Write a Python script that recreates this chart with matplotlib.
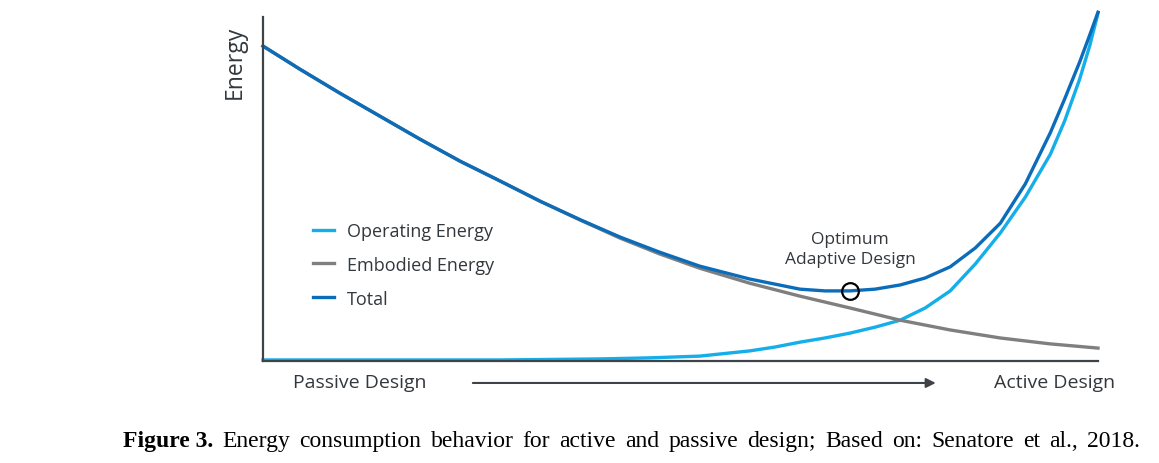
import matplotlib
matplotlib.use('Agg')
import matplotlib.pyplot as plt

# values (x: passive -> active, 0..100; y: energy, 0..100)
x_emb = [0, 4.4, 9.2, 14.0, 18.8, 23.6, 28.4, 33.2, 38.0, 42.8, 47.5, 52.3,
         58.3, 64.3, 70.3, 76.3, 82.3, 88.3, 94.3, 100]
embodied = [90.3, 83.7, 76.8, 70.2, 63.6, 57.3, 51.6, 45.8, 40.4, 35.2, 30.7, 26.6,
            22.3, 18.6, 15.2, 11.7, 8.9, 6.6, 4.9, 3.7]

x_op = [0, 16.4, 28.4, 40.4, 46.3, 52.3, 58.3, 61.3, 64.3, 67.3, 70.3, 73.3,
        76.3, 79.3, 82.3, 85.3, 88.3, 91.3, 94.3, 96.0, 97.8, 99.0, 100]
operating = [0.3, 0.3, 0.3, 0.6, 0.9, 1.4, 2.9, 4.0, 5.4, 6.6, 8.0, 9.7,
             11.7, 15.2, 20.1, 27.8, 36.7, 47.0, 59.3, 68.8, 80.8, 90.3, 99.7]

x_tot = [0, 4.4, 9.2, 14.0, 18.8, 23.6, 28.4, 33.2, 38.0, 42.8, 47.5, 52.3,
         58.3, 64.3, 67.3, 70.3, 73.3, 76.3, 79.3, 82.3, 85.3, 88.3, 91.3, 94.3,
         96.0, 97.8, 99.0, 100]
total = [90.3, 83.7, 76.8, 70.2, 63.6, 57.3, 51.6, 45.8, 40.5, 35.5, 31.2, 27.2,
         23.5, 20.6, 20.1, 20.1, 20.6, 21.8, 23.8, 27.0, 32.4, 39.5, 50.8, 65.5,
         75.1, 85.7, 93.4, 100.0]

optimum = (70.3, 20.1)

labels = ['Operating Energy', 'Embodied Energy', 'Total']
colors = ['#14AEEA', '#7F7F7F', '#0B6CBA']
txt = '#33383D'

caption_bold = 'Figure 3.'
caption = 'Energy consumption behavior for active and passive design; Based on: Senatore et al., 2018.'

plt.rcParams['font.family'] = ['Open Sans', 'DejaVu Sans']

fig = plt.figure(figsize=(11.59, 4.64), dpi=100)
ax = fig.add_axes([263 / 1159, 102 / 464, 835 / 1159, 354 / 464])

ax.plot(x_op, operating, color=colors[0], lw=2.4, label=labels[0], clip_on=False)
ax.plot(x_emb, embodied, color=colors[1], lw=2.4, label=labels[1], clip_on=False)
ax.plot(x_tot, total, color=colors[2], lw=2.4, label=labels[2], clip_on=False)
ax.plot(*optimum, 'o', ms=12, mfc='none', mec='black', mew=1.6, zorder=5)

ax.set_xlim(0, 100)
ax.set_ylim(0, 101.5)
ax.spines['top'].set_visible(False)
ax.spines['right'].set_visible(False)
for s in ['left', 'bottom']:
    ax.spines[s].set_color('#3D4348')
    ax.spines[s].set_linewidth(1.6)
ax.spines['left'].set_bounds(0, 98.6)
ax.set_xticks([])
ax.set_yticks([])

ax.set_ylabel('Energy', fontsize=16.5, color=txt)
ax.yaxis.set_label_coords(-0.019, 0.847)

leg = ax.legend(loc='upper left', bbox_to_anchor=(0.04, 0.439), frameon=False,
                fontsize=13, handlelength=1.17, handletextpad=0.72, labelspacing=0.88)
for t in leg.get_texts():
    t.set_color(txt)

ax.text(70.3, 32.2, 'Optimum\nAdaptive Design', ha='center', va='center',
        fontsize=12.5, color=txt, linespacing=1.32)

ax.text(3.6, -6, 'Passive Design', ha='left', va='center', fontsize=14,
        color=txt, clip_on=False)
ax.text(87.6, -6, 'Active Design', ha='left', va='center', fontsize=14,
        color=txt, clip_on=False)
ax.annotate('', xy=(80.9, -6.3), xytext=(24.8, -6.3), xycoords='data',
            arrowprops=dict(arrowstyle='-|>', color='#3D4348', lw=1.5,
                            mutation_scale=14), annotation_clip=False)

# caption, justified between x=123 and x=1140 px
cap_y = 1 - 442 / 464
left_px, right_px = 123, 1140
words = [(caption_bold, 'bold')] + [(w, 'normal') for w in caption.split(' ')]
items = []
for w, wt in words:
    items.append(fig.text(0, cap_y, w, fontsize=17, fontweight=wt,
                          family='Liberation Serif', va='center', ha='left'))
fig.canvas.draw()
r = fig.canvas.get_renderer()
widths = [t.get_window_extent(r).width for t in items]
gap = (right_px - left_px - sum(widths)) / (len(items) - 1)
pos = left_px
for t, w in zip(items, widths):
    t.set_x(pos / 1159)
    pos += w + gap

fig.savefig('out.png', dpi=100)
